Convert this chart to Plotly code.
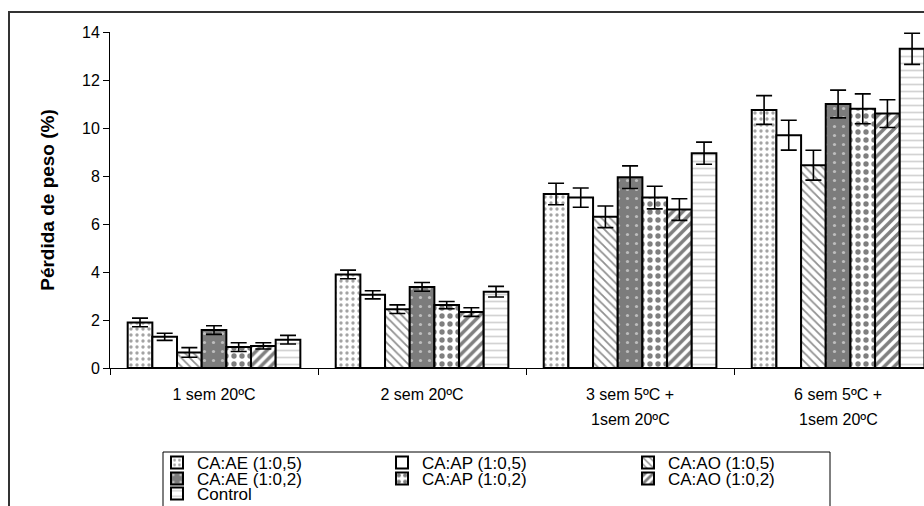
import plotly.graph_objects as go

# Storage conditions (first and second label lines)
categories = ["1 sem 20ºC", "2 sem 20ºC", "3 sem 5ºC +", "6 sem 5ºC +"]
category_line2 = ["", "", "1sem 20ºC", "1sem 20ºC"]

# Weight loss (%) per treatment and its standard error
series_names = [
    "CA:AE (1:0,5)", "CA:AP (1:0,5)", "CA:AO (1:0,5)",
    "CA:AE (1:0,2)", "CA:AP (1:0,2)", "CA:AO (1:0,2)", "Control",
]
ae_05 = [1.90, 3.90, 7.25, 10.75]
ap_05 = [1.30, 3.05, 7.10, 9.70]
ao_05 = [0.65, 2.45, 6.30, 8.45]
ae_02 = [1.58, 3.38, 7.95, 11.00]
ap_02 = [0.87, 2.62, 7.10, 10.80]
ao_02 = [0.92, 2.33, 6.60, 10.60]
control = [1.18, 3.18, 8.95, 13.30]

ae_05_err = [0.18, 0.18, 0.45, 0.60]
ap_05_err = [0.15, 0.17, 0.40, 0.62]
ao_05_err = [0.20, 0.18, 0.45, 0.62]
ae_02_err = [0.18, 0.18, 0.47, 0.58]
ap_02_err = [0.18, 0.15, 0.47, 0.62]
ao_02_err = [0.13, 0.18, 0.45, 0.58]
control_err = [0.18, 0.22, 0.46, 0.65]

values = [ae_05, ap_05, ao_05, ae_02, ap_02, ao_02, control]
errors = [ae_05_err, ap_05_err, ao_05_err, ae_02_err, ap_02_err, ao_02_err, control_err]

# Fill pattern of each treatment
patterns = [
    dict(shape=".", fgcolor="#4a4a4a", bgcolor="white", size=6, solidity=0.25),
    dict(shape="", fgcolor="black", bgcolor="white"),
    dict(shape="\\", fgcolor="#222222", bgcolor="white", size=6, solidity=0.3),
    dict(shape=".", fgcolor="white", bgcolor="#7c7c7c", size=9, solidity=0.1),
    dict(shape=".", fgcolor="black", bgcolor="white", size=8, solidity=0.35),
    dict(shape="/", fgcolor="black", bgcolor="white", size=7, solidity=0.5),
    dict(shape="-", fgcolor="#a8a8a8", bgcolor="white", size=7, solidity=0.25),
]

W, H = 924, 506
PL, PR, PT, PB = 110, 924, 32, 368  # plot area in pixels


def px_x(x):
    return (x - PL) / (PR - PL)


def px_y(y):
    return (PB - y) / (PB - PT)


FONT = "Liberation Sans, Arial, sans-serif"

# legend slot of each treatment: (left pixel, row centre pixel)
legend_slots = [
    (157, 463), (382, 463), (628, 463),
    (157, 479), (382, 479), (628, 479),
    (157, 494),
]

fig = go.Figure()
for i, name in enumerate(series_names):
    lid = "legend" if i == 0 else f"legend{i + 1}"
    fig.add_trace(go.Bar(
        x=categories, y=values[i], name=name,
        marker=dict(color="white", line=dict(color="black", width=2),
                    pattern=patterns[i]),
        error_y=dict(type="data", array=errors[i], color="black",
                     thickness=1.6, width=8),
        legend=lid, showlegend=True,
    ))

legends = {}
for i, (lx, ly) in enumerate(legend_slots):
    lid = "legend" if i == 0 else f"legend{i + 1}"
    legends[lid] = dict(
        x=px_x(lx), y=px_y(ly), xanchor="left", yanchor="middle",
        xref="paper", yref="paper", orientation="h",
        bgcolor="rgba(0,0,0,0)", borderwidth=0,
        font=dict(family=FONT, size=17, color="black"),
        itemwidth=30, visible=True,
    )

annotations = []
for cat, line2 in zip(categories, category_line2):
    if line2:
        annotations.append(dict(
            x=cat, xref="x", y=px_y(420), yref="paper", text=line2,
            showarrow=False, xanchor="center", yanchor="middle",
            font=dict(family=FONT, size=16, color="black"),
        ))

shapes = [
    # outer chart frame
    dict(type="rect", xref="paper", yref="paper",
         x0=px_x(9), y0=px_y(520), x1=px_x(940), y1=px_y(12),
         line=dict(color="#333333", width=2), fillcolor="rgba(0,0,0,0)"),
    # legend frame
    dict(type="rect", xref="paper", yref="paper",
         x0=px_x(163), y0=px_y(520), x1=px_x(830), y1=px_y(452),
         line=dict(color="black", width=1), fillcolor="rgba(0,0,0,0)"),
]

fig.update_layout(
    width=W, height=H,
    margin=dict(l=PL, r=W - PR, t=PT, b=H - PB, pad=0, autoexpand=False),
    paper_bgcolor="white", plot_bgcolor="white",
    showlegend=True,
    barmode="group", bargap=0.17, bargroupgap=0,
    font=dict(family=FONT, size=16, color="black"),
    annotations=annotations, shapes=shapes,
    **legends,
)
fig.update_xaxes(
    type="category", range=[-0.5, 3.413],
    showline=True, linecolor="black", linewidth=1,
    ticks="outside", tickson="boundaries", ticklen=6, tickcolor="black",
    ticklabelstandoff=12,
    showgrid=False, tickfont=dict(family=FONT, size=16),
)
fig.update_yaxes(
    range=[0, 14], dtick=2, tickformat="d",
    showline=True, linecolor="black", linewidth=1,
    ticks="outside", ticklen=6, tickcolor="black",
    showgrid=False, zeroline=False, tickfont=dict(family=FONT, size=16),
    title=dict(text="<b>Pérdida de peso (%)</b>", standoff=22,
               font=dict(family=FONT, size=19)),
)

fig.write_html("out.html")
